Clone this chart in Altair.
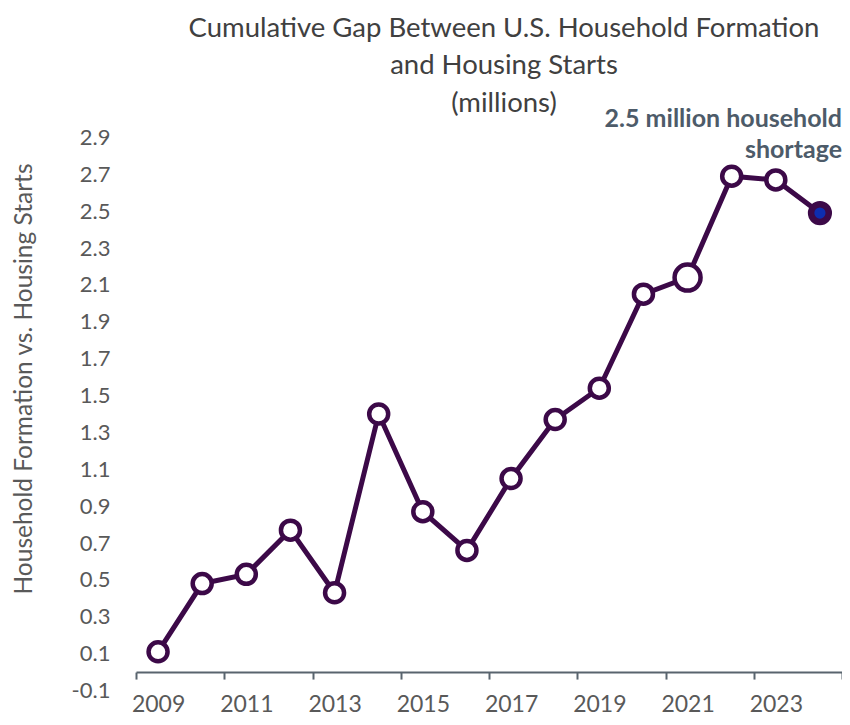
import altair as alt
import pandas as pd

years = list(range(2009, 2025))
gap = [0.11, 0.48, 0.53, 0.77, 0.43, 1.40, 0.87, 0.66, 1.05, 1.37, 1.54, 2.05, 2.14, 2.69, 2.67, 2.49]

title_lines = ["Cumulative Gap Between U.S. Household Formation", "and Housing Starts", "(millions)"]
y_title = "Household Formation vs. Housing Starts"
note_text = "2.5 million household\nshortage"
note_year = 2024.5
note_value = 3.0

y_ticks = [round(-0.1 + 0.2 * i, 1) for i in range(16)]
x_ticks = []
for y in range(2009, 2025, 2):
    x_ticks += [y - 0.5, y]
x_ticks.append(2024.5)

df = pd.DataFrame({"year": years, "gap": gap})
note_df = pd.DataFrame({"year": [note_year], "gap": [note_value], "label": [note_text]})

PURPLE = "#3C0948"
BLUE = "#0D2DB0"
W, H = 706, 553

x_enc = alt.X(
    "year:Q",
    scale=alt.Scale(domain=[2008.5, 2024.5], nice=False, zero=False),
    axis=alt.Axis(
        title=None, values=x_ticks,
        labelExpr="datum.value % 1 == 0 ? toString(datum.value) : ''",
        tickOpacity={"condition": {"test": "datum.value % 1 == 0", "value": 0}, "value": 1},
        offset=-H * 0.1 / 3.0,
        domainColor="#59646E", domainWidth=2, tickColor="#59646E", tickWidth=2, tickSize=7,
        labelFont="Lato", labelFontSize=23, labelColor="#595959", labelPadding=14,
        grid=False, labelFlush=False, labelOverlap=False,
    ),
)
y_enc = alt.Y(
    "gap:Q",
    scale=alt.Scale(domain=[-0.1, 2.9], nice=False, zero=False),
    axis=alt.Axis(
        title=y_title, values=y_ticks, grid=False, domain=False, ticks=False,
        labelExpr="replace(format(datum.value, '.1f'), '\u2212', '-')",
        labelFont="Lato", labelFontSize=22, labelColor="#595959", labelPadding=26,
        labelOverlap=False, labelBound=False,
        titleFont="Lato", titleFontSize=24.5, titleFontWeight="normal", titleColor="#595959",
        titleX=-112, titleY=241, titleAngle=-90, titleAlign="center", titleBaseline="middle",
    ),
)

is_big = alt.datum.year == 2021
is_last = alt.datum.year == 2024

base = alt.Chart(df)
line = base.mark_line(color=PURPLE, strokeWidth=5).encode(x=x_enc, y=y_enc)
points = base.mark_point(shape="circle", filled=False, opacity=1, stroke=PURPLE).encode(
    x=x_enc, y=y_enc,
    size=alt.when(is_big).then(alt.value(676)).when(is_last).then(alt.value(313)).otherwise(alt.value(361)),
    fill=alt.when(is_last).then(alt.value(BLUE)).otherwise(alt.value("white")),
    strokeWidth=alt.when(is_last).then(alt.value(6.5)).otherwise(alt.value(4.5)),
)
note = alt.Chart(note_df).mark_text(
    align="right", baseline="middle", lineBreak="\n", lineHeight=31,
    font="Lato", fontSize=25, fontWeight="bold", color="#4D5B69",
).encode(x=x_enc, y=y_enc, text="label:N")

chart = alt.layer(line, points, note).properties(
    width=W, height=H,
    title=alt.Title(title_lines, font="Lato", fontSize=27.5, fontWeight="normal", color="#404040",
                    lineHeight=37.5, anchor="middle", dx=15, offset=-10),
    autosize=alt.AutoSizeParams(type="none"),
    padding={"left": 128, "top": 129.5, "right": 0, "bottom": 25},
).configure_view(stroke=None)

chart.save("out.html", embed_options={"renderer": "svg", "actions": False})
